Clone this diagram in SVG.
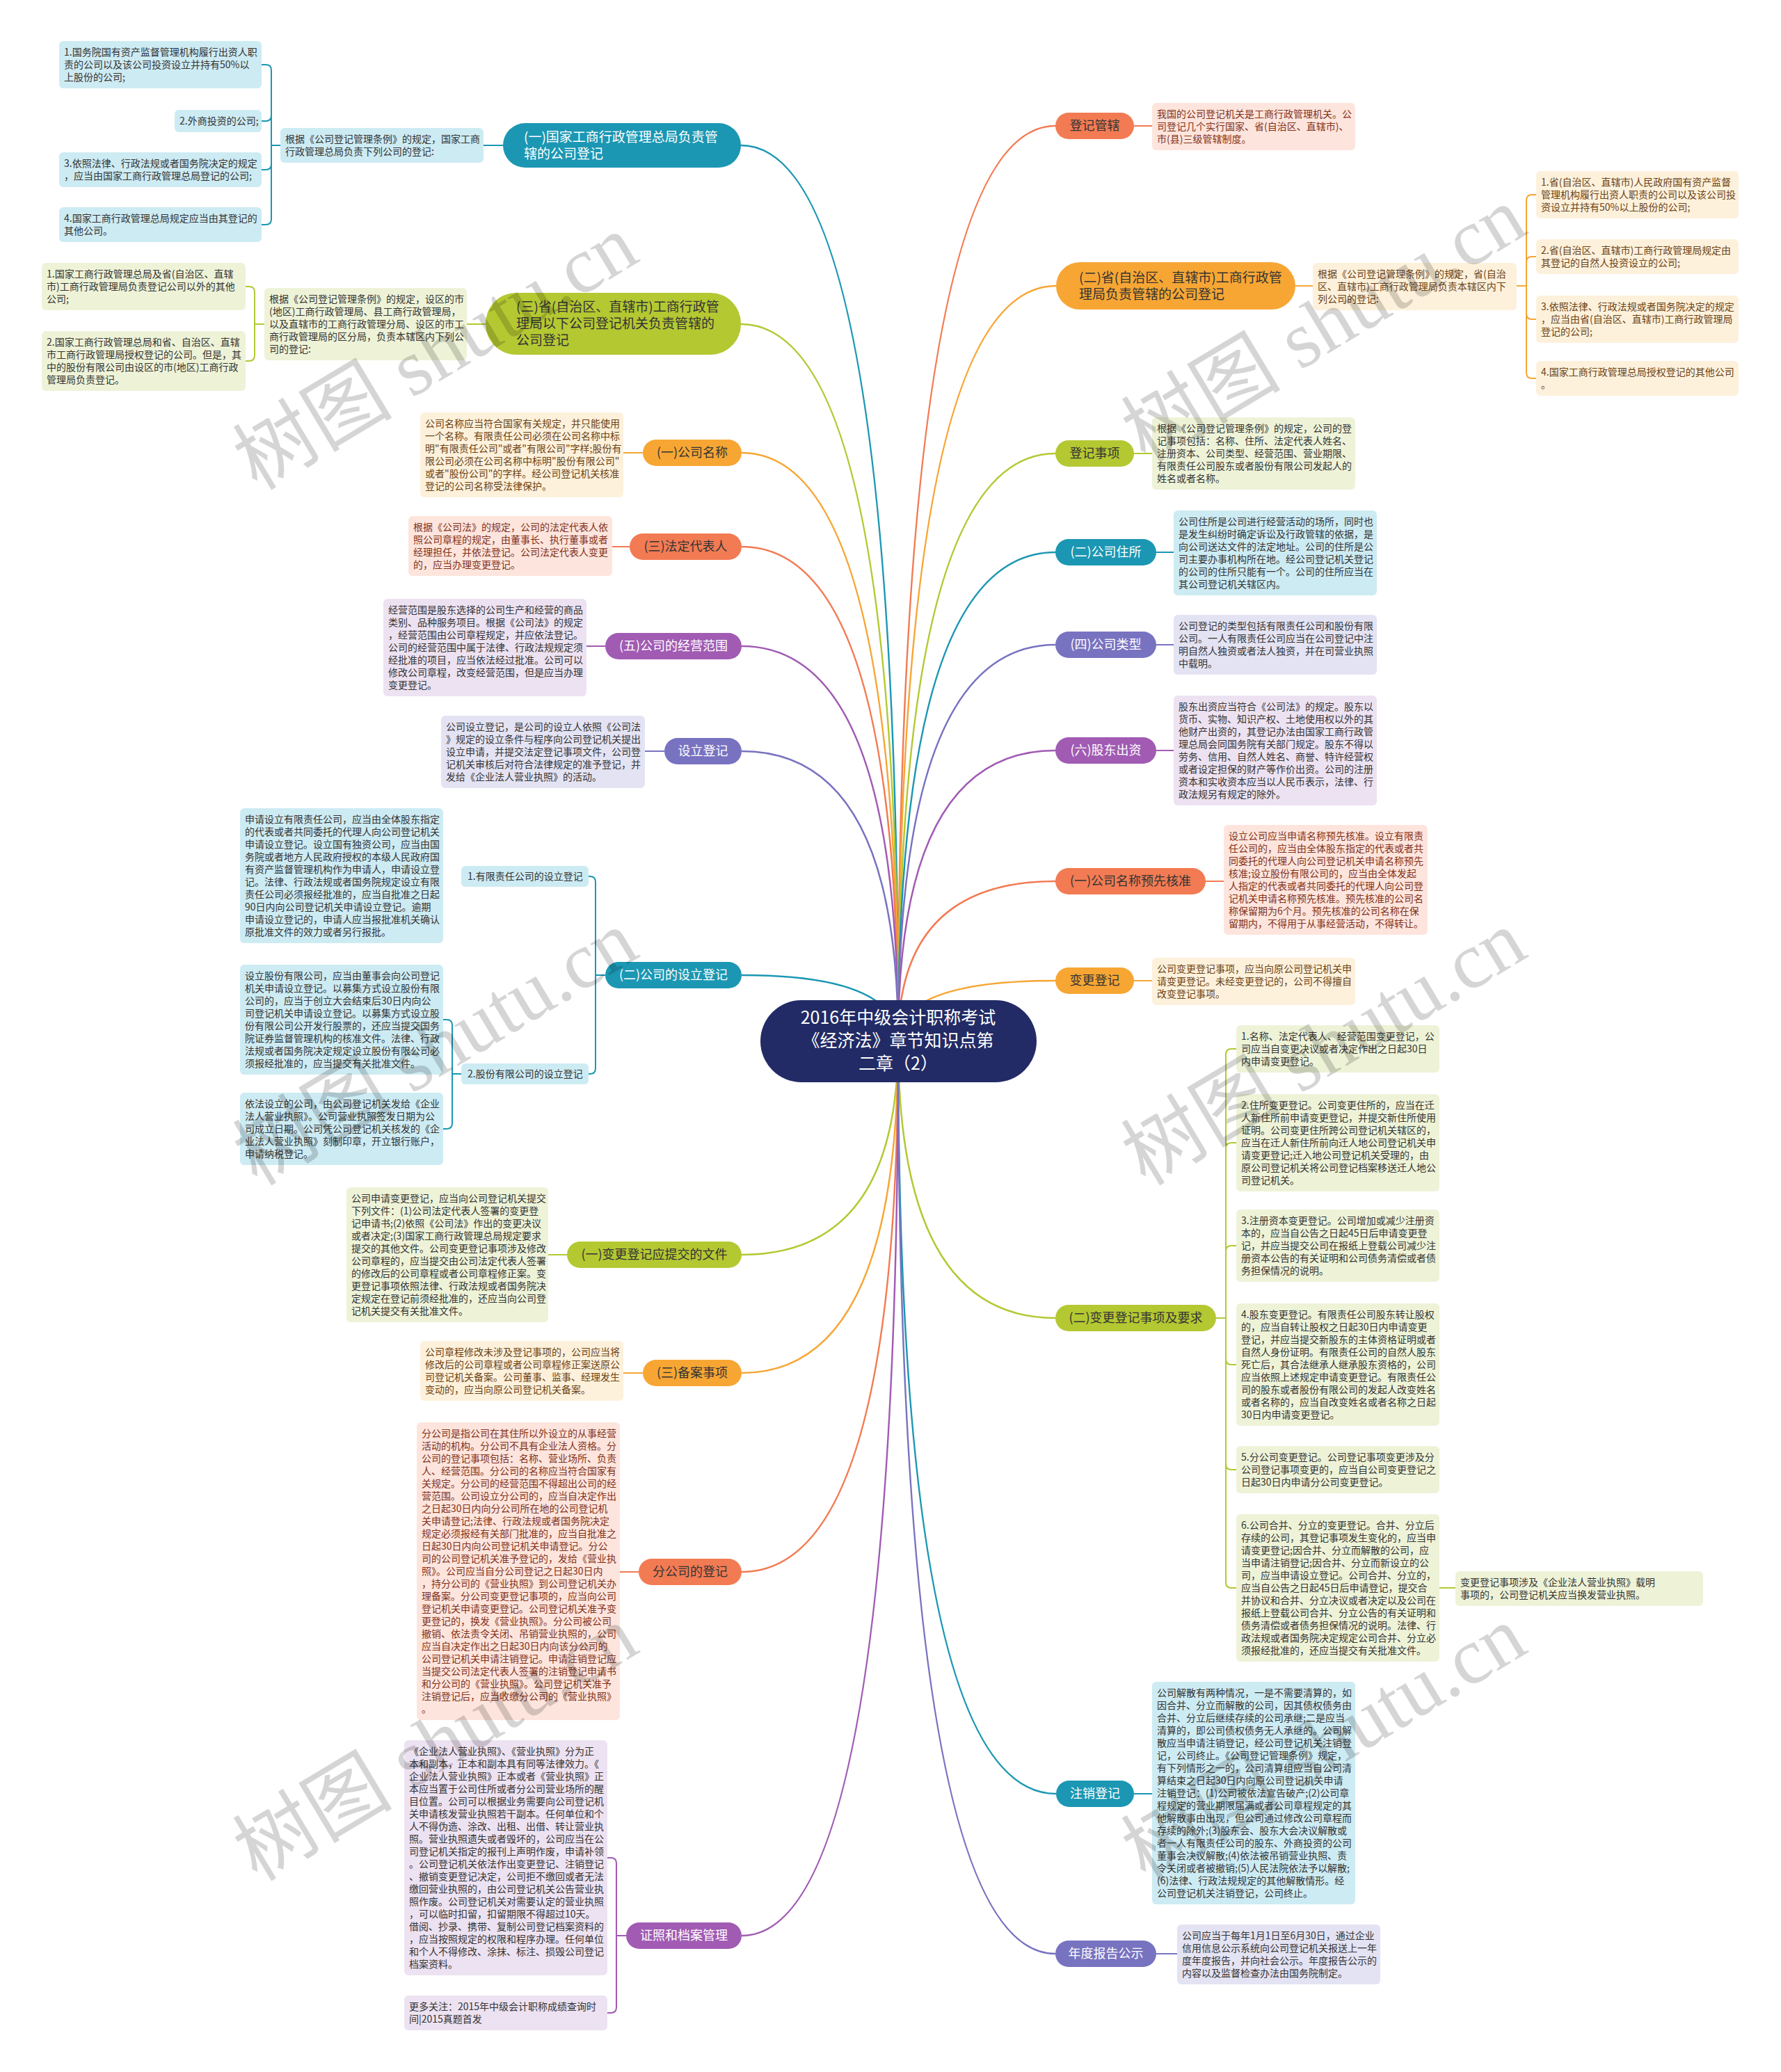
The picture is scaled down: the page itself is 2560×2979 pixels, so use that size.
<svg xmlns="http://www.w3.org/2000/svg" width="2560" height="2979" viewBox="0 0 2560 2979">
<style>
text{font-family:"Noto Sans CJK SC","Liberation Sans",sans-serif}
.d{font-size:14px;fill:#333}
.dO{font-size:14px;fill:#6b4214}
.dR{font-size:14px;fill:#82311a}
.nm{font-size:18px;text-anchor:middle}
.w{fill:#fff}
.k{fill:#333}
.cT{fill:#1b97b3}.cG{fill:#b4c832}.cO{fill:#f7a634}.cR{fill:#f27b53}.cP{fill:#a15bb3}.cS{fill:#7873c0}
.bT{fill:#cdebf3}.bG{fill:#eef3d8}.bO{fill:#fdf1dc}.bR{fill:#fde5dd}.bP{fill:#ede2f1}.bS{fill:#e4e3f3}
.lT{stroke:#1b97b3}.lG{stroke:#b4c832}.lO{stroke:#f7a634}.lR{stroke:#f27b53}.lP{stroke:#a15bb3}.lS{stroke:#7873c0}
#links path{fill:none;stroke-width:2.5}
#links .b{stroke-width:2}
.wm{font-family:"Liberation Serif","Noto Sans CJK SC",serif;font-size:115px;fill:#000;opacity:0.16}
</style>
<rect width="2560" height="2979" fill="#fff"/>
<g id="links">
<path class="lT" d="M1291 1497 Q1291 209 1065 209"/>
<path class="lG" d="M1291 1497 Q1291 466 1065 466"/>
<path class="lO" d="M1291 1497 Q1291 651 1066 651"/>
<path class="lR" d="M1291 1497 Q1291 786 1066 786"/>
<path class="lP" d="M1291 1497 Q1291 929 1066 929"/>
<path class="lS" d="M1291 1497 Q1291 1080 1066 1080"/>
<path class="lT" d="M1291 1497 Q1291 1402 1066 1402"/>
<path class="lG" d="M1291 1497 Q1291 1804 1066 1804"/>
<path class="lO" d="M1291 1497 Q1291 1974 1066 1974"/>
<path class="lR" d="M1291 1497 Q1291 2260 1066 2260"/>
<path class="lP" d="M1291 1497 Q1291 2783 1066 2783"/>
<path class="lR" d="M1291 1497 Q1291 181 1517 181"/>
<path class="lO" d="M1291 1497 Q1291 411 1518 411"/>
<path class="lG" d="M1291 1497 Q1291 652 1517 652"/>
<path class="lT" d="M1291 1497 Q1291 794 1517 794"/>
<path class="lS" d="M1291 1497 Q1291 927 1517 927"/>
<path class="lP" d="M1291 1497 Q1291 1079 1517 1079"/>
<path class="lR" d="M1291 1497 Q1291 1267 1517 1267"/>
<path class="lO" d="M1291 1497 Q1291 1410 1517 1410"/>
<path class="lG" d="M1291 1497 Q1291 1895 1517 1895"/>
<path class="lT" d="M1291 1497 Q1291 2579 1518 2579"/>
<path class="lS" d="M1291 1497 Q1291 2809 1517 2809"/>
<path class="b lT" d="M723 209H695"/>
<path class="b lG" d="M698 466H671"/>
<path class="b lO" d="M924 651H896"/>
<path class="b lR" d="M905 786H880"/>
<path class="b lP" d="M870 929H843"/>
<path class="b lS" d="M955 1080H927"/>
<path class="b lG" d="M815 1804H788"/>
<path class="b lO" d="M924 1974H896"/>
<path class="b lR" d="M918 2260H891"/>
<path class="b lR" d="M1630 181H1656"/>
<path class="b lO" d="M1862 411H1887"/>
<path class="b lG" d="M1630 652H1656"/>
<path class="b lT" d="M1662 794H1687"/>
<path class="b lS" d="M1662 927H1687"/>
<path class="b lP" d="M1662 1079H1687"/>
<path class="b lR" d="M1733 1267H1759"/>
<path class="b lO" d="M1630 1410H1656"/>
<path class="b lT" d="M1630 2579H1656"/>
<path class="b lS" d="M1662 2809H1692"/>
<path class="b lG" d="M2069 2283H2092"/>
<path class="b lT" d="M403 209H390V101Q390 93 382 93H376M390 209V166Q390 174 382 174H376M390 209V236Q390 244 382 244H376M390 209V315Q390 323 382 323H376"/>
<path class="b lG" d="M380 466H366V420Q366 412 358 412H353M366 466V511Q366 519 358 519H353"/>
<path class="b lT" d="M870 1402H856V1268Q856 1260 848 1260H846M856 1402V1536Q856 1544 848 1544H846"/>
<path class="b lT" d="M663 1544H650V1474Q650 1466 642 1466H637M650 1544V1615Q650 1623 642 1623H637"/>
<path class="b lP" d="M900 2783H886V2679Q886 2671 878 2671H873M886 2783V2886Q886 2894 878 2894H873"/>
<path class="b lO" d="M2180 411H2194V288Q2194 280 2202 280H2208M2194 411V377Q2194 369 2202 369H2208M2194 411V451Q2194 459 2202 459H2208M2194 411V536Q2194 544 2202 544H2208"/>
<path class="b lG" d="M1748 1895H1762V1516Q1762 1508 1770 1508H1777M1762 1895V1651Q1762 1643 1770 1643H1777M1762 1895V1799Q1762 1791 1770 1791H1777M1762 1895V1954Q1762 1962 1770 1962H1777M1762 1895V2105Q1762 2113 1770 2113H1777M1762 1895V2275Q1762 2283 1770 2283H1777"/>
</g>
<g id="center">
<rect x="1093" y="1438" width="397" height="118" rx="59" fill="#222b65"/>
<text x="1291" text-anchor="middle" font-size="25" class="w"><tspan x="1291" y="1472">2016年中级会计职称考试</tspan><tspan x="1291" y="1505">《经济法》章节知识点第</tspan><tspan x="1291" y="1538">二章（2）</tspan></text>
</g>
<g id="nA">
<rect x="723" y="177" width="342" height="64" rx="32" class="cT"/>
<text font-size="19" class="w"><tspan x="753" y="204">(一)国家工商行政管理总局负责管</tspan><tspan x="753" y="228">辖的公司登记</tspan></text>
<rect x="403" y="184" width="292" height="50" rx="6" class="bT"/>
<text class="d"><tspan x="410" y="205">根据《公司登记管理条例》的规定，国家工商</tspan><tspan x="410" y="223">行政管理总局负责下列公司的登记:</tspan></text>
<rect x="85" y="59" width="291" height="68" rx="6" class="bT"/>
<text class="d"><tspan x="92" y="80">1.国务院国有资产监督管理机构履行出资人职</tspan><tspan x="92" y="98">责的公司以及该公司投资设立并持有50%以</tspan><tspan x="92" y="116">上股份的公司;</tspan></text>
<rect x="251" y="158" width="125" height="32" rx="6" class="bT"/>
<text class="d"><tspan x="258" y="179">2.外商投资的公司;</tspan></text>
<rect x="85" y="219" width="291" height="50" rx="6" class="bT"/>
<text class="d"><tspan x="92" y="240">3.依照法律、行政法规或者国务院决定的规定</tspan><tspan x="92" y="258">，应当由国家工商行政管理总局登记的公司;</tspan></text>
<rect x="85" y="298" width="291" height="50" rx="6" class="bT"/>
<text class="d"><tspan x="92" y="319">4.国家工商行政管理总局规定应当由其登记的</tspan><tspan x="92" y="337">其他公司。</tspan></text>
</g>
<g id="nB">
<rect x="698" y="421" width="367" height="89" rx="44" class="cG"/>
<text font-size="19" class="k"><tspan x="742" y="448">(三)省(自治区、直辖市)工商行政管</tspan><tspan x="742" y="472">理局以下公司登记机关负责管辖的</tspan><tspan x="742" y="496">公司登记</tspan></text>
<rect x="380" y="414" width="291" height="104" rx="6" class="bG"/>
<text class="d"><tspan x="387" y="435">根据《公司登记管理条例》的规定，设区的市</tspan><tspan x="387" y="453">(地区)工商行政管理局、县工商行政管理局，</tspan><tspan x="387" y="471">以及直辖市的工商行政管理分局、设区的市工</tspan><tspan x="387" y="489">商行政管理局的区分局，负责本辖区内下列公</tspan><tspan x="387" y="507">司的登记:</tspan></text>
<rect x="60" y="378" width="293" height="68" rx="6" class="bG"/>
<text class="d"><tspan x="67" y="399">1.国家工商行政管理总局及省(自治区、直辖</tspan><tspan x="67" y="417">市)工商行政管理局负责登记公司以外的其他</tspan><tspan x="67" y="435">公司;</tspan></text>
<rect x="60" y="476" width="293" height="86" rx="6" class="bG"/>
<text class="d"><tspan x="67" y="497">2.国家工商行政管理总局和省、自治区、直辖</tspan><tspan x="67" y="515">市工商行政管理局授权登记的公司。但是，其</tspan><tspan x="67" y="533">中的股份有限公司由设区的市(地区)工商行政</tspan><tspan x="67" y="551">管理局负责登记。</tspan></text>
</g>
<g id="nC">
<rect x="924" y="632" width="142" height="38" rx="19" class="cO"/>
<text x="995" y="657" class="nm k">(一)公司名称</text>
<rect x="604" y="593" width="292" height="122" rx="6" class="bO"/>
<text class="dO"><tspan x="611" y="614">公司名称应当符合国家有关规定，并只能使用</tspan><tspan x="611" y="632">一个名称。有限责任公司必须在公司名称中标</tspan><tspan x="611" y="650">明"有限责任公司"或者"有限公司"字样;股份有</tspan><tspan x="611" y="668">限公司必须在公司名称中标明"股份有限公司"</tspan><tspan x="611" y="686">或者"股份公司"的字样。经公司登记机关核准</tspan><tspan x="611" y="704">登记的公司名称受法律保护。</tspan></text>
</g>
<g id="nD">
<rect x="905" y="767" width="161" height="38" rx="19" class="cR"/>
<text x="985.5" y="792" class="nm k">(三)法定代表人</text>
<rect x="587" y="742" width="293" height="86" rx="6" class="bR"/>
<text class="dR"><tspan x="594" y="763">根据《公司法》的规定，公司的法定代表人依</tspan><tspan x="594" y="781">照公司章程的规定，由董事长、执行董事或者</tspan><tspan x="594" y="799">经理担任，并依法登记。公司法定代表人变更</tspan><tspan x="594" y="817">的，应当办理变更登记。</tspan></text>
</g>
<g id="nE">
<rect x="870" y="910" width="196" height="38" rx="19" class="cP"/>
<text x="968" y="935" class="nm w">(五)公司的经营范围</text>
<rect x="551" y="861" width="292" height="140" rx="6" class="bP"/>
<text class="d"><tspan x="558" y="882">经营范围是股东选择的公司生产和经营的商品</tspan><tspan x="558" y="900">类别、品种服务项目。根据《公司法》的规定</tspan><tspan x="558" y="918">，经营范围由公司章程规定，并应依法登记。</tspan><tspan x="558" y="936">公司的经营范围中属于法律、行政法规规定须</tspan><tspan x="558" y="954">经批准的项目，应当依法经过批准。公司可以</tspan><tspan x="558" y="972">修改公司章程，改变经营范围，但是应当办理</tspan><tspan x="558" y="990">变更登记。</tspan></text>
</g>
<g id="nF">
<rect x="955" y="1061" width="111" height="38" rx="19" class="cS"/>
<text x="1010.5" y="1086" class="nm w">设立登记</text>
<rect x="634" y="1029" width="293" height="104" rx="6" class="bS"/>
<text class="d"><tspan x="641" y="1050">公司设立登记，是公司的设立人依照《公司法</tspan><tspan x="641" y="1068">》规定的设立条件与程序向公司登记机关提出</tspan><tspan x="641" y="1086">设立申请，并提交法定登记事项文件，公司登</tspan><tspan x="641" y="1104">记机关审核后对符合法律规定的准予登记，并</tspan><tspan x="641" y="1122">发给《企业法人营业执照》的活动。</tspan></text>
</g>
<g id="nG">
<rect x="870" y="1383" width="196" height="38" rx="19" class="cT"/>
<text x="968" y="1408" class="nm w">(二)公司的设立登记</text>
<rect x="663" y="1245" width="183" height="30" rx="6" class="bT"/>
<text class="d" x="672" y="1265">1.有限责任公司的设立登记</text>
<rect x="345" y="1162" width="292" height="194" rx="6" class="bT"/>
<text class="d"><tspan x="352" y="1183">申请设立有限责任公司，应当由全体股东指定</tspan><tspan x="352" y="1201">的代表或者共同委托的代理人向公司登记机关</tspan><tspan x="352" y="1219">申请设立登记。设立国有独资公司，应当由国</tspan><tspan x="352" y="1237">务院或者地方人民政府授权的本级人民政府国</tspan><tspan x="352" y="1255">有资产监督管理机构作为申请人，申请设立登</tspan><tspan x="352" y="1273">记。法律、行政法规或者国务院规定设立有限</tspan><tspan x="352" y="1291">责任公司必须报经批准的，应当自批准之日起</tspan><tspan x="352" y="1309">90日内向公司登记机关申请设立登记。逾期</tspan><tspan x="352" y="1327">申请设立登记的，申请人应当报批准机关确认</tspan><tspan x="352" y="1345">原批准文件的效力或者另行报批。</tspan></text>
<rect x="663" y="1529" width="183" height="30" rx="6" class="bT"/>
<text class="d" x="672" y="1549">2.股份有限公司的设立登记</text>
<rect x="345" y="1387" width="292" height="158" rx="6" class="bT"/>
<text class="d"><tspan x="352" y="1408">设立股份有限公司，应当由董事会向公司登记</tspan><tspan x="352" y="1426">机关申请设立登记。以募集方式设立股份有限</tspan><tspan x="352" y="1444">公司的，应当于创立大会结束后30日内向公</tspan><tspan x="352" y="1462">司登记机关申请设立登记。以募集方式设立股</tspan><tspan x="352" y="1480">份有限公司公开发行股票的，还应当提交国务</tspan><tspan x="352" y="1498">院证券监督管理机构的核准文件。法律、行政</tspan><tspan x="352" y="1516">法规或者国务院决定规定设立股份有限公司必</tspan><tspan x="352" y="1534">须报经批准的，应当提交有关批准文件。</tspan></text>
<rect x="345" y="1571" width="292" height="104" rx="6" class="bT"/>
<text class="d"><tspan x="352" y="1592">依法设立的公司，由公司登记机关发给《企业</tspan><tspan x="352" y="1610">法人营业执照》。公司营业执照签发日期为公</tspan><tspan x="352" y="1628">司成立日期。公司凭公司登记机关核发的《企</tspan><tspan x="352" y="1646">业法人营业执照》刻制印章，开立银行账户，</tspan><tspan x="352" y="1664">申请纳税登记。</tspan></text>
</g>
<g id="nH">
<rect x="815" y="1785" width="251" height="38" rx="19" class="cG"/>
<text x="940.5" y="1810" class="nm k">(一)变更登记应提交的文件</text>
<rect x="498" y="1707" width="290" height="194" rx="6" class="bG"/>
<text class="d"><tspan x="505" y="1728">公司申请变更登记，应当向公司登记机关提交</tspan><tspan x="505" y="1746">下列文件：(1)公司法定代表人签署的变更登</tspan><tspan x="505" y="1764">记申请书;(2)依照《公司法》作出的变更决议</tspan><tspan x="505" y="1782">或者决定;(3)国家工商行政管理总局规定要求</tspan><tspan x="505" y="1800">提交的其他文件。公司变更登记事项涉及修改</tspan><tspan x="505" y="1818">公司章程的，应当提交由公司法定代表人签署</tspan><tspan x="505" y="1836">的修改后的公司章程或者公司章程修正案。变</tspan><tspan x="505" y="1854">更登记事项依照法律、行政法规或者国务院决</tspan><tspan x="505" y="1872">定规定在登记前须经批准的，还应当向公司登</tspan><tspan x="505" y="1890">记机关提交有关批准文件。</tspan></text>
</g>
<g id="nI">
<rect x="924" y="1955" width="142" height="38" rx="19" class="cO"/>
<text x="995" y="1980" class="nm k">(三)备案事项</text>
<rect x="604" y="1928" width="292" height="86" rx="6" class="bO"/>
<text class="dO"><tspan x="611" y="1949">公司章程修改未涉及登记事项的，公司应当将</tspan><tspan x="611" y="1967">修改后的公司章程或者公司章程修正案送原公</tspan><tspan x="611" y="1985">司登记机关备案。公司董事、监事、经理发生</tspan><tspan x="611" y="2003">变动的，应当向原公司登记机关备案。</tspan></text>
</g>
<g id="nJ">
<rect x="918" y="2241" width="148" height="38" rx="19" class="cR"/>
<text x="992" y="2266" class="nm k">分公司的登记</text>
<rect x="599" y="2045" width="292" height="428" rx="6" class="bR"/>
<text class="dR"><tspan x="606" y="2066">分公司是指公司在其住所以外设立的从事经营</tspan><tspan x="606" y="2084">活动的机构。分公司不具有企业法人资格。分</tspan><tspan x="606" y="2102">公司的登记事项包括：名称、营业场所、负责</tspan><tspan x="606" y="2120">人、经营范围。分公司的名称应当符合国家有</tspan><tspan x="606" y="2138">关规定。分公司的经营范围不得超出公司的经</tspan><tspan x="606" y="2156">营范围。公司设立分公司的，应当自决定作出</tspan><tspan x="606" y="2174">之日起30日内向分公司所在地的公司登记机</tspan><tspan x="606" y="2192">关申请登记;法律、行政法规或者国务院决定</tspan><tspan x="606" y="2210">规定必须报经有关部门批准的，应当自批准之</tspan><tspan x="606" y="2228">日起30日内向公司登记机关申请登记。分公</tspan><tspan x="606" y="2246">司的公司登记机关准予登记的，发给《营业执</tspan><tspan x="606" y="2264">照》。公司应当自分公司登记之日起30日内</tspan><tspan x="606" y="2282">，持分公司的《营业执照》到公司登记机关办</tspan><tspan x="606" y="2300">理备案。分公司变更登记事项的，应当向公司</tspan><tspan x="606" y="2318">登记机关申请变更登记。公司登记机关准予变</tspan><tspan x="606" y="2336">更登记的，换发《营业执照》。分公司被公司</tspan><tspan x="606" y="2354">撤销、依法责令关闭、吊销营业执照的，公司</tspan><tspan x="606" y="2372">应当自决定作出之日起30日内向该分公司的</tspan><tspan x="606" y="2390">公司登记机关申请注销登记。申请注销登记应</tspan><tspan x="606" y="2408">当提交公司法定代表人签署的注销登记申请书</tspan><tspan x="606" y="2426">和分公司的《营业执照》。公司登记机关准予</tspan><tspan x="606" y="2444">注销登记后，应当收缴分公司的《营业执照》</tspan><tspan x="606" y="2462">。</tspan></text>
</g>
<g id="nK">
<rect x="900" y="2764" width="166" height="38" rx="19" class="cP"/>
<text x="983" y="2789" class="nm w">证照和档案管理</text>
<rect x="581" y="2502" width="292" height="338" rx="6" class="bP"/>
<text class="d"><tspan x="588" y="2523">《企业法人营业执照》、《营业执照》分为正</tspan><tspan x="588" y="2541">本和副本，正本和副本具有同等法律效力。《</tspan><tspan x="588" y="2559">企业法人营业执照》正本或者《营业执照》正</tspan><tspan x="588" y="2577">本应当置于公司住所或者分公司营业场所的醒</tspan><tspan x="588" y="2595">目位置。公司可以根据业务需要向公司登记机</tspan><tspan x="588" y="2613">关申请核发营业执照若干副本。任何单位和个</tspan><tspan x="588" y="2631">人不得伪造、涂改、出租、出借、转让营业执</tspan><tspan x="588" y="2649">照。营业执照遗失或者毁坏的，公司应当在公</tspan><tspan x="588" y="2667">司登记机关指定的报刊上声明作废，申请补领</tspan><tspan x="588" y="2685">。公司登记机关依法作出变更登记、注销登记</tspan><tspan x="588" y="2703">、撤销变更登记决定，公司拒不缴回或者无法</tspan><tspan x="588" y="2721">缴回营业执照的，由公司登记机关公告营业执</tspan><tspan x="588" y="2739">照作废。公司登记机关对需要认定的营业执照</tspan><tspan x="588" y="2757">，可以临时扣留，扣留期限不得超过10天。</tspan><tspan x="588" y="2775">借阅、抄录、携带、复制公司登记档案资料的</tspan><tspan x="588" y="2793">，应当按照规定的权限和程序办理。任何单位</tspan><tspan x="588" y="2811">和个人不得修改、涂抹、标注、损毁公司登记</tspan><tspan x="588" y="2829">档案资料。</tspan></text>
<rect x="581" y="2869" width="292" height="50" rx="6" class="bP"/>
<text class="d"><tspan x="588" y="2890">更多关注：2015年中级会计职称成绩查询时</tspan><tspan x="588" y="2908">间|2015真题首发</tspan></text>
</g>
<g id="nL">
<rect x="1517" y="162" width="113" height="38" rx="19" class="cR"/>
<text x="1573.5" y="187" class="nm k">登记管辖</text>
<rect x="1656" y="148" width="292" height="68" rx="6" class="bR"/>
<text class="dR"><tspan x="1663" y="169">我国的公司登记机关是工商行政管理机关。公</tspan><tspan x="1663" y="187">司登记几个实行国家、省(自治区、直辖市)、</tspan><tspan x="1663" y="205">市(县)三级管辖制度。</tspan></text>
</g>
<g id="nM">
<rect x="1518" y="377" width="344" height="68" rx="34" class="cO"/>
<text font-size="19" class="k"><tspan x="1551" y="406">(二)省(自治区、直辖市)工商行政管</tspan><tspan x="1551" y="430">理局负责管辖的公司登记</tspan></text>
<rect x="1887" y="378" width="293" height="68" rx="6" class="bO"/>
<text class="dO"><tspan x="1894" y="399">根据《公司登记管理条例》的规定，省(自治</tspan><tspan x="1894" y="417">区、直辖市)工商行政管理局负责本辖区内下</tspan><tspan x="1894" y="435">列公司的登记:</tspan></text>
<rect x="2208" y="246" width="291" height="68" rx="6" class="bO"/>
<text class="dO"><tspan x="2215" y="267">1.省(自治区、直辖市)人民政府国有资产监督</tspan><tspan x="2215" y="285">管理机构履行出资人职责的公司以及该公司投</tspan><tspan x="2215" y="303">资设立并持有50%以上股份的公司;</tspan></text>
<rect x="2208" y="344" width="291" height="50" rx="6" class="bO"/>
<text class="dO"><tspan x="2215" y="365">2.省(自治区、直辖市)工商行政管理局规定由</tspan><tspan x="2215" y="383">其登记的自然人投资设立的公司;</tspan></text>
<rect x="2208" y="425" width="291" height="68" rx="6" class="bO"/>
<text class="dO"><tspan x="2215" y="446">3.依照法律、行政法规或者国务院决定的规定</tspan><tspan x="2215" y="464">，应当由省(自治区、直辖市)工商行政管理局</tspan><tspan x="2215" y="482">登记的公司;</tspan></text>
<rect x="2208" y="519" width="291" height="50" rx="6" class="bO"/>
<text class="dO"><tspan x="2215" y="540">4.国家工商行政管理总局授权登记的其他公司</tspan><tspan x="2215" y="558">。</tspan></text>
</g>
<g id="nN">
<rect x="1517" y="633" width="113" height="38" rx="19" class="cG"/>
<text x="1573.5" y="658" class="nm k">登记事项</text>
<rect x="1656" y="600" width="292" height="104" rx="6" class="bG"/>
<text class="d"><tspan x="1663" y="621">根据《公司登记管理条例》的规定，公司的登</tspan><tspan x="1663" y="639">记事项包括：名称、住所、法定代表人姓名、</tspan><tspan x="1663" y="657">注册资本、公司类型、经营范围、营业期限、</tspan><tspan x="1663" y="675">有限责任公司股东或者股份有限公司发起人的</tspan><tspan x="1663" y="693">姓名或者名称。</tspan></text>
</g>
<g id="nO">
<rect x="1517" y="775" width="145" height="38" rx="19" class="cT"/>
<text x="1589.5" y="800" class="nm w">(二)公司住所</text>
<rect x="1687" y="734" width="292" height="122" rx="6" class="bT"/>
<text class="d"><tspan x="1694" y="755">公司住所是公司进行经营活动的场所，同时也</tspan><tspan x="1694" y="773">是发生纠纷时确定诉讼及行政管辖的依据，是</tspan><tspan x="1694" y="791">向公司送达文件的法定地址。公司的住所是公</tspan><tspan x="1694" y="809">司主要办事机构所在地。经公司登记机关登记</tspan><tspan x="1694" y="827">的公司的住所只能有一个。公司的住所应当在</tspan><tspan x="1694" y="845">其公司登记机关辖区内。</tspan></text>
</g>
<g id="nP">
<rect x="1517" y="908" width="145" height="38" rx="19" class="cS"/>
<text x="1589.5" y="933" class="nm w">(四)公司类型</text>
<rect x="1687" y="884" width="292" height="86" rx="6" class="bS"/>
<text class="d"><tspan x="1694" y="905">公司登记的类型包括有限责任公司和股份有限</tspan><tspan x="1694" y="923">公司。一人有限责任公司应当在公司登记中注</tspan><tspan x="1694" y="941">明自然人独资或者法人独资，并在司营业执照</tspan><tspan x="1694" y="959">中载明。</tspan></text>
</g>
<g id="nQ">
<rect x="1517" y="1060" width="145" height="38" rx="19" class="cP"/>
<text x="1589.5" y="1085" class="nm w">(六)股东出资</text>
<rect x="1687" y="1000" width="292" height="158" rx="6" class="bP"/>
<text class="d"><tspan x="1694" y="1021">股东出资应当符合《公司法》的规定。股东以</tspan><tspan x="1694" y="1039">货币、实物、知识产权、土地使用权以外的其</tspan><tspan x="1694" y="1057">他财产出资的，其登记办法由国家工商行政管</tspan><tspan x="1694" y="1075">理总局会同国务院有关部门规定。股东不得以</tspan><tspan x="1694" y="1093">劳务、信用、自然人姓名、商誉、特许经营权</tspan><tspan x="1694" y="1111">或者设定担保的财产等作价出资。公司的注册</tspan><tspan x="1694" y="1129">资本和实收资本应当以人民币表示，法律、行</tspan><tspan x="1694" y="1147">政法规另有规定的除外。</tspan></text>
</g>
<g id="nR">
<rect x="1517" y="1248" width="216" height="38" rx="19" class="cR"/>
<text x="1625" y="1273" class="nm k">(一)公司名称预先核准</text>
<rect x="1759" y="1186" width="293" height="158" rx="6" class="bR"/>
<text class="dR"><tspan x="1766" y="1207">设立公司应当申请名称预先核准。设立有限责</tspan><tspan x="1766" y="1225">任公司的，应当由全体股东指定的代表或者共</tspan><tspan x="1766" y="1243">同委托的代理人向公司登记机关申请名称预先</tspan><tspan x="1766" y="1261">核准;设立股份有限公司的，应当由全体发起</tspan><tspan x="1766" y="1279">人指定的代表或者共同委托的代理人向公司登</tspan><tspan x="1766" y="1297">记机关申请名称预先核准。预先核准的公司名</tspan><tspan x="1766" y="1315">称保留期为6个月。预先核准的公司名称在保</tspan><tspan x="1766" y="1333">留期内，不得用于从事经营活动，不得转让。</tspan></text>
</g>
<g id="nS">
<rect x="1517" y="1391" width="113" height="38" rx="19" class="cO"/>
<text x="1573.5" y="1416" class="nm k">变更登记</text>
<rect x="1656" y="1377" width="292" height="68" rx="6" class="bO"/>
<text class="dO"><tspan x="1663" y="1398">公司变更登记事项，应当向原公司登记机关申</tspan><tspan x="1663" y="1416">请变更登记。未经变更登记的，公司不得擅自</tspan><tspan x="1663" y="1434">改变登记事项。</tspan></text>
</g>
<g id="nT">
<rect x="1517" y="1876" width="231" height="38" rx="19" class="cG"/>
<text x="1632.5" y="1901" class="nm k">(二)变更登记事项及要求</text>
<rect x="1777" y="1474" width="292" height="68" rx="6" class="bG"/>
<text class="d"><tspan x="1784" y="1495">1.名称、法定代表人、经营范围变更登记，公</tspan><tspan x="1784" y="1513">司应当自变更决议或者决定作出之日起30日</tspan><tspan x="1784" y="1531">内申请变更登记。</tspan></text>
<rect x="1777" y="1573" width="292" height="140" rx="6" class="bG"/>
<text class="d"><tspan x="1784" y="1594">2.住所变更登记。公司变更住所的，应当在迁</tspan><tspan x="1784" y="1612">人新住所前申请变更登记，并提交新住所使用</tspan><tspan x="1784" y="1630">证明。公司变更住所跨公司登记机关辖区的，</tspan><tspan x="1784" y="1648">应当在迁人新住所前向迁人地公司登记机关申</tspan><tspan x="1784" y="1666">请变更登记;迁入地公司登记机关受理的，由</tspan><tspan x="1784" y="1684">原公司登记机关将公司登记档案移送迁人地公</tspan><tspan x="1784" y="1702">司登记机关。</tspan></text>
<rect x="1777" y="1739" width="292" height="104" rx="6" class="bG"/>
<text class="d"><tspan x="1784" y="1760">3.注册资本变更登记。公司增加或减少注册资</tspan><tspan x="1784" y="1778">本的，应当自公告之日起45日后申请变更登</tspan><tspan x="1784" y="1796">记，并应当提交公司在报纸上登载公司减少注</tspan><tspan x="1784" y="1814">册资本公告的有关证明和公司债务清偿或者债</tspan><tspan x="1784" y="1832">务担保情况的说明。</tspan></text>
<rect x="1777" y="1874" width="292" height="176" rx="6" class="bG"/>
<text class="d"><tspan x="1784" y="1895">4.股东变更登记。有限责任公司股东转让股权</tspan><tspan x="1784" y="1913">的，应当自转让股权之日起30日内申请变更</tspan><tspan x="1784" y="1931">登记，并应当提交新股东的主体资格证明或者</tspan><tspan x="1784" y="1949">自然人身份证明。有限责任公司的自然人股东</tspan><tspan x="1784" y="1967">死亡后，其合法继承人继承股东资格的，公司</tspan><tspan x="1784" y="1985">应当依照上述规定申请变更登记。有限责任公</tspan><tspan x="1784" y="2003">司的股东或者股份有限公司的发起人改变姓名</tspan><tspan x="1784" y="2021">或者名称的，应当自改变姓名或者名称之日起</tspan><tspan x="1784" y="2039">30日内申请变更登记。</tspan></text>
<rect x="1777" y="2079" width="292" height="68" rx="6" class="bG"/>
<text class="d"><tspan x="1784" y="2100">5.分公司变更登记。公司登记事项变更涉及分</tspan><tspan x="1784" y="2118">公司登记事项变更的，应当自公司变更登记之</tspan><tspan x="1784" y="2136">日起30日内申请分公司变更登记。</tspan></text>
<rect x="1777" y="2177" width="292" height="212" rx="6" class="bG"/>
<text class="d"><tspan x="1784" y="2198">6.公司合并、分立的变更登记。合并、分立后</tspan><tspan x="1784" y="2216">存续的公司，其登记事项发生变化的，应当申</tspan><tspan x="1784" y="2234">请变更登记;因合并、分立而解散的公司，应</tspan><tspan x="1784" y="2252">当申请注销登记;因合并、分立而新设立的公</tspan><tspan x="1784" y="2270">司，应当申请设立登记。公司合并、分立的，</tspan><tspan x="1784" y="2288">应当自公告之日起45日后申请登记，提交合</tspan><tspan x="1784" y="2306">并协议和合并、分立决议或者决定以及公司在</tspan><tspan x="1784" y="2324">报纸上登载公司合并、分立公告的有关证明和</tspan><tspan x="1784" y="2342">债务清偿或者债务担保情况的说明。法律、行</tspan><tspan x="1784" y="2360">政法规或者国务院决定规定公司合并、分立必</tspan><tspan x="1784" y="2378">须报经批准的，还应当提交有关批准文件。</tspan></text>
<rect x="2092" y="2259" width="356" height="50" rx="6" class="bG"/>
<text class="d"><tspan x="2099" y="2280">变更登记事项涉及《企业法人营业执照》载明</tspan><tspan x="2099" y="2298">事项的，公司登记机关应当换发营业执照。</tspan></text>
</g>
<g id="nU">
<rect x="1518" y="2560" width="112" height="38" rx="19" class="cT"/>
<text x="1574" y="2585" class="nm w">注销登记</text>
<rect x="1656" y="2418" width="292" height="320" rx="6" class="bT"/>
<text class="d"><tspan x="1663" y="2439">公司解散有两种情况，一是不需要清算的，如</tspan><tspan x="1663" y="2457">因合并、分立而解散的公司，因其债权债务由</tspan><tspan x="1663" y="2475">合并、分立后继续存续的公司承继;二是应当</tspan><tspan x="1663" y="2493">清算的，即公司债权债务无人承继的。公司解</tspan><tspan x="1663" y="2511">散应当申请注销登记，经公司登记机关注销登</tspan><tspan x="1663" y="2529">记，公司终止。《公司登记管理条例》规定，</tspan><tspan x="1663" y="2547">有下列情形之一的，公司清算组应当自公司清</tspan><tspan x="1663" y="2565">算结束之日起30日内向原公司登记机关申请</tspan><tspan x="1663" y="2583">注销登记：(1)公司被依法宣告破产;(2)公司章</tspan><tspan x="1663" y="2601">程规定的营业期限届满或者公司章程规定的其</tspan><tspan x="1663" y="2619">他解散事由出现，但公司通过修改公司章程而</tspan><tspan x="1663" y="2637">存续的除外;(3)股东会、股东大会决议解散或</tspan><tspan x="1663" y="2655">者一人有限责任公司的股东、外商投资的公司</tspan><tspan x="1663" y="2673">董事会决议解散;(4)依法被吊销营业执照、责</tspan><tspan x="1663" y="2691">令关闭或者被撤销;(5)人民法院依法予以解散;</tspan><tspan x="1663" y="2709">(6)法律、行政法规规定的其他解散情形。经</tspan><tspan x="1663" y="2727">公司登记机关注销登记，公司终止。</tspan></text>
</g>
<g id="nV">
<rect x="1517" y="2790" width="145" height="38" rx="19" class="cS"/>
<text x="1589.5" y="2815" class="nm w">年度报告公示</text>
<rect x="1692" y="2767" width="292" height="86" rx="6" class="bS"/>
<text class="d"><tspan x="1699" y="2788">公司应当于每年1月1日至6月30日，通过企业</tspan><tspan x="1699" y="2806">信用信息公示系统向公司登记机关报送上一年</tspan><tspan x="1699" y="2824">度年度报告，并向社会公示。年度报告公示的</tspan><tspan x="1699" y="2842">内容以及监督检查办法由国务院制定。</tspan></text>
</g>
<g id="watermarks">
<text class="wm" text-anchor="middle" transform="translate(646 540) rotate(-31)">树图 shutu.cn</text>
<text class="wm" text-anchor="middle" transform="translate(1923 500) rotate(-31)">树图 shutu.cn</text>
<text class="wm" text-anchor="middle" transform="translate(646 1540) rotate(-31)">树图 shutu.cn</text>
<text class="wm" text-anchor="middle" transform="translate(1923 1540) rotate(-31)">树图 shutu.cn</text>
<text class="wm" text-anchor="middle" transform="translate(646 2540) rotate(-31)">树图 shutu.cn</text>
<text class="wm" text-anchor="middle" transform="translate(1923 2540) rotate(-31)">树图 shutu.cn</text>
</g>
</svg>
